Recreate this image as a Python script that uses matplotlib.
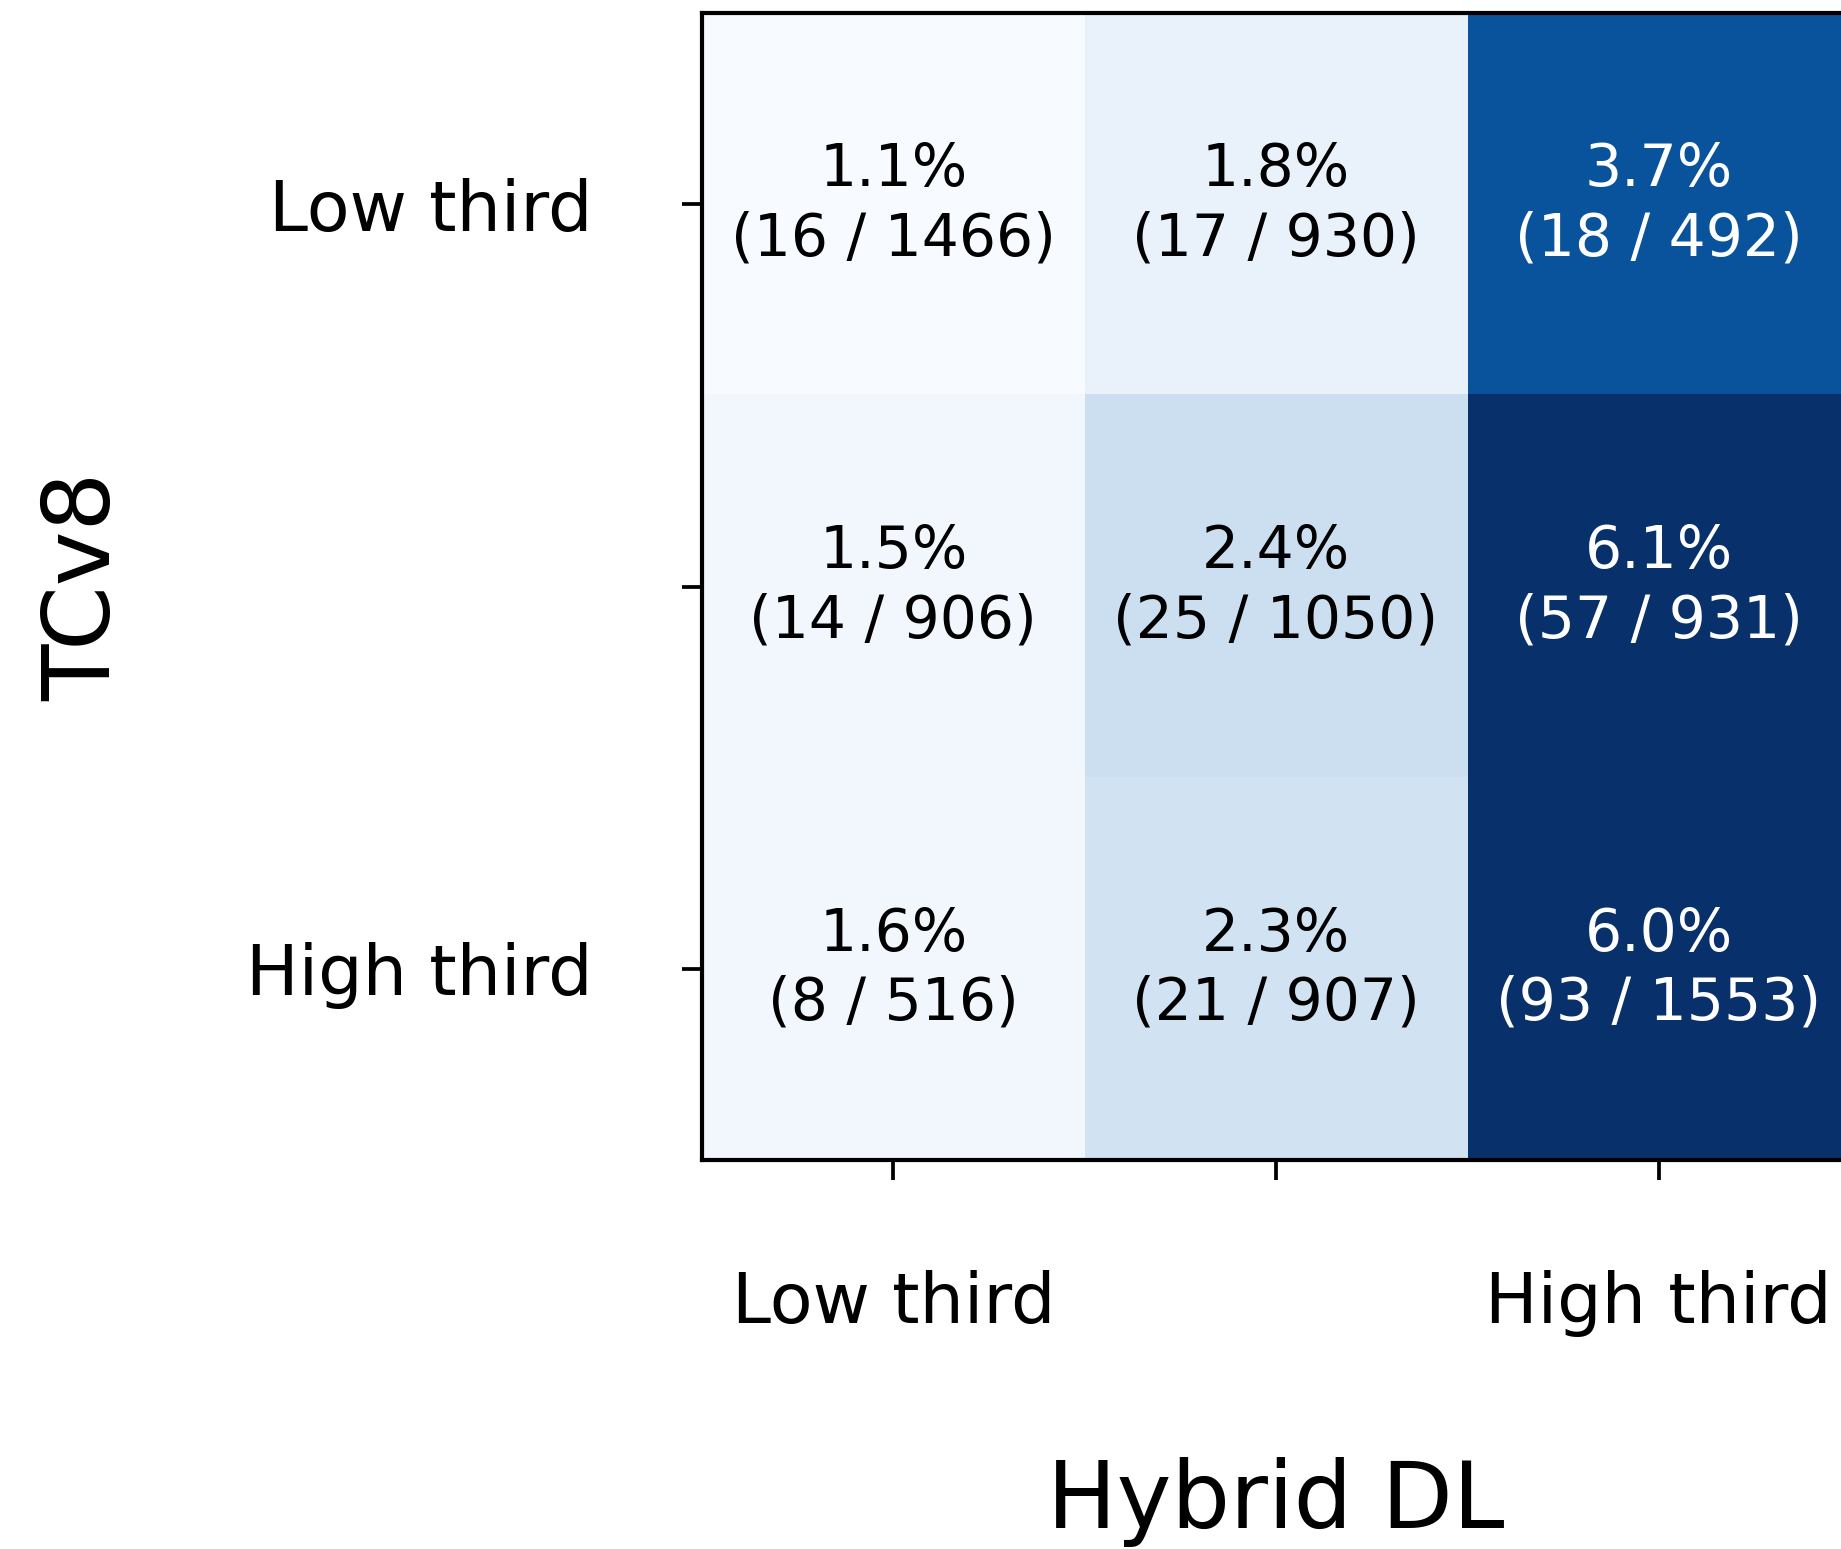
import numpy as np
import matplotlib
matplotlib.use("Agg")
import matplotlib.pyplot as plt
from matplotlib.colors import PowerNorm

# Tertile groups for each score
row_labels = ["Low third", "", "High third"]      # TCv8 tertiles
col_labels = ["Low third", "", "High third"]      # Hybrid DL tertiles

# Event counts and group sizes per cell (rows: TCv8, cols: Hybrid DL)
events = np.array([
    [16, 17, 18],
    [14, 25, 57],
    [8, 21, 93],
])
totals = np.array([
    [1466, 930, 492],
    [906, 1050, 931],
    [516, 907, 1553],
])

rates = 100.0 * events / totals

fig = plt.figure(figsize=(1841 / 300, 1549 / 300), dpi=300)
ax = fig.add_axes([0.3813, 0.2511, 0.6236, 0.7405])

norm = PowerNorm(gamma=2.0, vmin=1.1, vmax=3.85)
ax.imshow(rates, cmap="Blues", norm=norm, aspect="auto")

for i in range(rates.shape[0]):
    for j in range(rates.shape[1]):
        shade = norm(rates[i, j])
        color = "white" if shade > 0.5 else "black"
        ax.text(j, i, f"{rates[i, j]:.1f}%\n({events[i, j]} / {totals[i, j]})",
                ha="center", va="center", multialignment="center",
                fontsize=14, color=color, linespacing=1.27)

ax.set_xticks(range(len(col_labels)))
ax.set_xticklabels(col_labels, fontsize=16.8)
ax.set_yticks(range(len(row_labels)))
ax.set_yticklabels(row_labels, fontsize=16.8)
ax.tick_params(axis="both", length=4.8, width=0.9, pad=21.5)

ax.set_xlabel("Hybrid DL", fontsize=22.2, labelpad=29)
ax.set_ylabel("TCv8", fontsize=22.2, labelpad=28)

for spine in ax.spines.values():
    spine.set_linewidth(1.0)

fig.savefig("out.png", dpi=300)
